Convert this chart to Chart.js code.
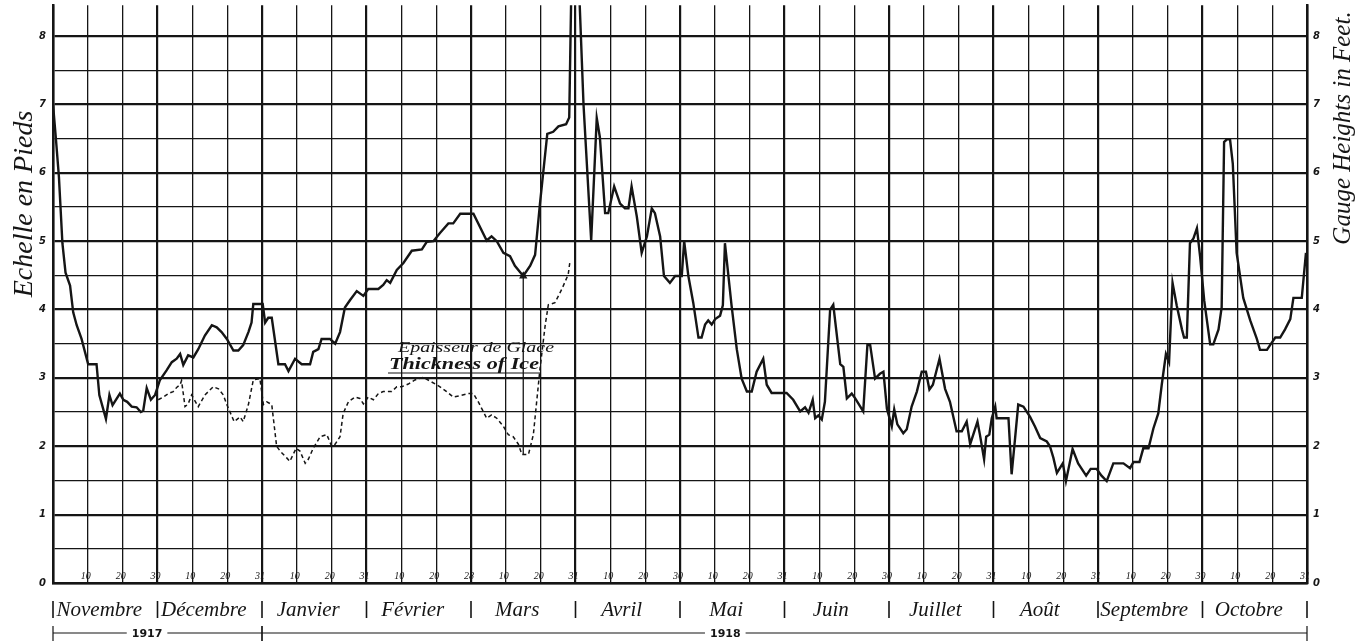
<!DOCTYPE html>
<html>
<head>
<meta charset="utf-8">
<script src="https://cdn.jsdelivr.net/npm/chart.js@4.4.1/dist/chart.umd.min.js"></script>
<style>
  html, body { margin: 0; padding: 0; background: #fff; }
  #chart { display: block; }
</style>
</head>
<body>
<canvas id="chart" width="1356" height="644"></canvas>
<script>
// x runs in ten-day periods from 1 Nov 1917 (3 per month, 36 in all), y in feet
const gaugePoints = [
  [0.00,7.00],[0.08,6.52],[0.17,5.94],[0.27,4.97],[0.36,4.54],[0.49,4.35],[0.58,3.96],[0.68,3.77],[0.82,3.57],[1.01,3.20],[1.25,3.20],[1.33,2.75],[1.52,2.40],[1.62,2.75],[1.71,2.60],[1.92,2.77],[2.02,2.68],[2.13,2.65],[2.26,2.58],[2.40,2.57],[2.52,2.50],[2.59,2.52],[2.69,2.85],[2.81,2.68],[2.93,2.75],
  [3.07,2.97],[3.26,3.11],[3.41,3.23],[3.55,3.28],[3.65,3.35],[3.74,3.19],[3.88,3.33],[4.03,3.30],[4.17,3.42],[4.36,3.62],[4.56,3.77],[4.70,3.74],[4.84,3.67],[4.99,3.57],[5.18,3.40],[5.32,3.40],[5.46,3.48],[5.61,3.67],[5.70,3.81],[5.75,4.08],[6.02,4.08],
  [6.09,3.81],[6.18,3.88],[6.28,3.88],[6.47,3.20],[6.66,3.20],[6.76,3.10],[6.95,3.28],[7.14,3.20],[7.38,3.20],[7.47,3.38],[7.62,3.42],[7.71,3.57],[7.95,3.57],[8.10,3.50],[8.24,3.67],[8.38,4.03],[8.53,4.14],[8.72,4.27],[8.91,4.20],
  [9.05,4.30],[9.34,4.30],[9.48,4.36],[9.58,4.43],[9.68,4.39],[9.87,4.58],[10.06,4.68],[10.30,4.86],[10.59,4.88],[10.73,4.99],[10.92,5.00],[11.11,5.12],[11.35,5.26],[11.49,5.26],[11.69,5.40],
  [12.07,5.40],[12.45,5.01],[12.59,5.07],[12.74,5.00],[12.93,4.83],[13.12,4.78],[13.26,4.64],[13.50,4.49],[13.70,4.64],[13.84,4.80],[13.98,5.55],[14.19,6.57],[14.36,6.60],[14.51,6.68],[14.73,6.71],[14.82,6.81],[14.89,9.00],
  [15.08,9.00],[15.23,7.00],[15.45,5.01],[15.61,6.80],[15.70,6.52],[15.85,5.41],[15.94,5.41],[16.11,5.80],[16.28,5.55],[16.42,5.48],[16.52,5.48],[16.61,5.80],[16.76,5.36],[16.90,4.83],[17.05,5.07],[17.19,5.48],[17.28,5.41],[17.43,5.07],[17.54,4.49],[17.71,4.39],[17.86,4.49],
  [18.05,4.49],[18.12,5.00],[18.24,4.49],[18.38,4.10],[18.53,3.59],[18.62,3.59],[18.72,3.78],[18.81,3.84],[18.91,3.78],[19.01,3.86],[19.15,3.91],[19.23,4.06],[19.29,4.97],[19.48,4.06],[19.63,3.42],[19.77,2.99],[19.92,2.80],[20.06,2.80],[20.20,3.09],[20.39,3.28],[20.49,2.90],[20.63,2.78],
  [21.06,2.78],[21.25,2.68],[21.45,2.51],[21.59,2.57],[21.69,2.49],[21.81,2.68],[21.88,2.41],[21.97,2.45],[22.07,2.39],[22.16,2.65],[22.31,4.00],[22.40,4.07],[22.60,3.20],[22.69,3.16],[22.79,2.70],[22.93,2.77],[23.03,2.70],[23.26,2.51],[23.38,3.48],[23.46,3.48],[23.60,2.99],[23.74,3.06],[23.84,3.09],
  [23.94,2.55],[24.08,2.29],[24.15,2.54],[24.24,2.32],[24.41,2.19],[24.51,2.25],[24.65,2.58],[24.80,2.80],[24.94,3.09],[25.06,3.09],[25.16,2.83],[25.26,2.90],[25.45,3.28],[25.61,2.84],[25.75,2.65],[25.94,2.22],[26.09,2.22],[26.23,2.36],[26.33,2.03],[26.54,2.36],[26.61,2.17],[26.73,1.81],[26.79,2.14],[26.88,2.17],
  [26.95,2.41],[27.05,2.58],[27.09,2.41],[27.43,2.41],[27.52,1.59],[27.62,2.12],[27.71,2.61],[27.86,2.58],[28.05,2.43],[28.19,2.29],[28.34,2.12],[28.53,2.07],[28.62,2.00],[28.72,1.83],[28.82,1.61],[28.99,1.75],[29.08,1.49],[29.27,1.96],[29.43,1.75],[29.66,1.57],[29.79,1.67],
  [29.96,1.67],[30.10,1.57],[30.25,1.49],[30.44,1.75],[30.73,1.75],[30.92,1.68],[31.02,1.77],[31.19,1.77],[31.30,1.97],[31.45,1.97],[31.59,2.26],[31.73,2.48],[31.83,2.90],[31.95,3.35],[32.04,3.23],[32.14,4.39],[32.26,4.06],[32.41,3.71],[32.47,3.59],[32.55,3.59],[32.64,4.97],[32.74,5.04],[32.84,5.19],[32.93,4.78],
  [33.05,4.13],[33.22,3.49],[33.31,3.49],[33.46,3.71],[33.55,4.03],[33.62,6.45],[33.70,6.49],[33.79,6.49],[33.87,6.13],[33.98,4.83],[34.17,4.17],[34.37,3.84],[34.56,3.57],[34.65,3.41],[34.85,3.41],[34.94,3.48],[35.09,3.59],[35.23,3.59],[35.37,3.71],[35.52,3.86],[35.61,4.17],[35.85,4.17],[35.97,4.83]
];

const icePoints = [
  [3.02,2.68],[3.17,2.72],[3.31,2.77],[3.45,2.80],[3.55,2.86],[3.65,2.90],[3.69,2.96],[3.79,2.58],[3.88,2.62],[3.98,2.75],[4.17,2.58],[4.36,2.75],[4.60,2.87],[4.75,2.84],[4.89,2.75],[4.99,2.61],[5.20,2.36],[5.37,2.43],[5.46,2.36],[5.61,2.61],[5.75,2.97],[5.94,2.99],
  [6.04,2.61],[6.14,2.65],[6.28,2.61],[6.42,2.00],[6.52,1.93],[6.71,1.83],[6.80,1.78],[6.98,1.97],[7.09,1.93],[7.24,1.75],[7.33,1.81],[7.47,1.97],[7.67,2.14],[7.86,2.17],[8.00,2.00],[8.10,2.03],[8.24,2.14],[8.33,2.48],[8.48,2.65],[8.67,2.72],[8.81,2.70],[8.91,2.62],
  [9.05,2.72],[9.20,2.68],[9.34,2.77],[9.48,2.80],[9.72,2.80],[9.87,2.87],[10.01,2.87],[10.20,2.91],[10.39,2.97],[10.63,3.01],[10.87,2.94],[11.11,2.87],[11.30,2.80],[11.49,2.72],[11.69,2.74],[11.92,2.77],
  [12.07,2.77],[12.21,2.65],[12.45,2.41],[12.59,2.46],[12.74,2.41],[12.93,2.29],[13.07,2.17],[13.21,2.14],[13.36,2.03],[13.46,1.88],[13.65,1.88],[13.79,2.17],[13.98,3.13],[14.13,3.77],[14.22,4.07],[14.41,4.10],[14.60,4.29],[14.79,4.51],[14.84,4.70]
];

// marker joining the lowest gauge reading in March to the ice curve
const arrowPoints = [[13.50,4.49],[13.50,1.88]];

const dayLabels = ["", "10","20","30", "10","20","31", "10","20","31", "10","20","28", "10","20","31", "10","20","30",
                   "10","20","31", "10","20","30", "10","20","31", "10","20","31", "10","20","30", "10","20","31"];
const monthNames = ["Novembre","Décembre","Janvier","Février","Mars","Avril","Mai","Juin","Juillet","Août","Septembre","Octobre"];
const years = [{ label: "1917", from: 0, to: 6, at: 2.7 }, { label: "1918", from: 6, to: 36, at: 19.3 }];
const yTitleLeft = "Echelle en Pieds";
const yTitleRight = "Gauge Heights in Feet.";
const iceNote = ["Epaisseur de Glace", "Thickness of Ice"];

const INK = "#151515";
const SCRIPT = "'Liberation Serif', 'DejaVu Serif', serif";

const toXY = (pts) => pts.map(([x, y]) => ({ x, y }));

// draws text stretched sideways so that it fills a given width
function wideText(ctx, text, x, y, width) {
  const w = ctx.measureText(text).width;
  ctx.save();
  ctx.translate(x, y);
  ctx.scale(width / w, 1);
  ctx.fillText(text, 0, 0);
  ctx.restore();
}

const decorations = {
  id: "decorations",
  afterDraw(chart) {
    const { ctx } = chart;
    const xs = chart.scales.x;
    const ys = chart.scales.y;
    const base = ys.getPixelForValue(0);
    ctx.save();
    ctx.fillStyle = INK;
    ctx.strokeStyle = INK;

    // day marks sitting on the zero line
    ctx.font = "italic 10px " + SCRIPT;
    ctx.textAlign = "center";
    ctx.textBaseline = "bottom";
    dayLabels.forEach((lab, i) => {
      if (!lab) return;
      ctx.fillText(lab, xs.getPixelForValue(i) - 2, base - 2);
    });

    // month names with separators
    ctx.font = "italic 21px " + SCRIPT;
    ctx.textBaseline = "middle";
    ctx.lineWidth = 1.6;
    for (let m = 0; m <= 12; m++) {
      const px = xs.getPixelForValue(m * 3);
      ctx.beginPath();
      ctx.moveTo(px, 601);
      ctx.lineTo(px, 618);
      ctx.stroke();
      if (m < 12) {
        const mid = xs.getPixelForValue(m * 3 + 1.5) - 6;
        ctx.fillText(monthNames[m], mid, 610);
      }
    }

    // year bracket
    ctx.font = "bold 11px 'DejaVu Sans', sans-serif";
    ctx.lineWidth = 1.2;
    years.forEach((yr) => {
      const a = xs.getPixelForValue(yr.from);
      const b = xs.getPixelForValue(yr.to);
      const c = xs.getPixelForValue(yr.at);
      const w = ctx.measureText(yr.label).width / 2 + 5;
      ctx.beginPath();
      ctx.moveTo(a, 633); ctx.lineTo(c - w, 633);
      ctx.moveTo(c + w, 633); ctx.lineTo(b, 633);
      ctx.moveTo(a, 626); ctx.lineTo(a, 641);
      ctx.moveTo(b, 626); ctx.lineTo(b, 641);
      ctx.stroke();
      ctx.fillText(yr.label, c, 634);
    });

    // axis titles, both reading upward
    ctx.font = "italic 28px " + SCRIPT;
    ctx.save();
    ctx.translate(25, 204);
    ctx.rotate(-Math.PI / 2);
    ctx.fillText(yTitleLeft, 0, 0);
    ctx.restore();
    ctx.font = "italic 25px " + SCRIPT;
    ctx.save();
    ctx.translate(1343, 128);
    ctx.rotate(-Math.PI / 2);
    ctx.fillText(yTitleRight, 0, 0);
    ctx.restore();

    // note on the ice curve
    ctx.textAlign = "left";
    ctx.textBaseline = "alphabetic";
    ctx.font = "italic 15px " + SCRIPT;
    wideText(ctx, iceNote[0], 398, 352, 156);
    ctx.font = "italic bold 16px " + SCRIPT;
    wideText(ctx, iceNote[1], 389, 369, 150);
    ctx.lineWidth = 1.2;
    ctx.beginPath();
    ctx.moveTo(388, 373);
    ctx.lineTo(540, 373);
    ctx.stroke();

    ctx.restore();
  }
};

new Chart(document.getElementById("chart"), {
  type: "line",
  data: {
    datasets: [
      {
        label: "Gauge Heights",
        data: toXY(gaugePoints),
        borderColor: INK,
        borderWidth: 2.4,
        pointRadius: 0,
        tension: 0,
        yAxisID: "y",
      },
      {
        label: "Thickness of Ice",
        data: toXY(icePoints),
        borderColor: INK,
        borderWidth: 1.5,
        borderDash: [4, 3],
        pointRadius: 0,
        tension: 0,
        yAxisID: "y",
      },
      {
        label: "marker",
        data: toXY(arrowPoints),
        borderColor: INK,
        borderWidth: 1.3,
        pointStyle: "triangle",
        pointRadius: [3.5, 0],
        pointBackgroundColor: INK,
        pointBorderColor: INK,
        yAxisID: "y",
      },
    ],
  },
  options: {
    responsive: false,
    animation: false,
    devicePixelRatio: 1,
    layout: { padding: 0 },
    plugins: { legend: { display: false }, tooltip: { enabled: false } },
    scales: {
      x: {
        type: "linear",
        min: 0,
        max: 36,
        ticks: { stepSize: 1, display: false },
        grid: {
          drawTicks: false,
          color: INK,
          lineWidth: (c) => (c.tick && c.tick.value % 3 === 0 ? 2.2 : 1.3),
        },
        border: { display: true, color: INK, width: 2.5 },
        afterFit(s) { s.height = 61; s.paddingLeft = 0; s.paddingRight = 0; },
      },
      y: {
        position: "left",
        min: 0,
        max: 8.45,
        ticks: {
          stepSize: 0.5,
          padding: 7,
          color: INK,
          font: { size: 10, weight: "bold", style: "italic", family: "'DejaVu Sans', sans-serif" },
          callback: (v) => (Number.isInteger(v) ? String(v) : ""),
        },
        grid: {
          drawTicks: false,
          color: INK,
          lineWidth: (c) => {
            const v = c.tick ? c.tick.value : 0;
            if (Math.abs(v * 2 - Math.round(v * 2)) > 1e-6) return 0;
            return Number.isInteger(v) ? 2.2 : 1.3;
          },
        },
        border: { display: true, color: INK, width: 2.5 },
        afterFit(s) { s.width = 53; s.paddingTop = 0; s.paddingBottom = 0; },
      },
      y2: {
        position: "right",
        min: 0,
        max: 8.45,
        ticks: {
          stepSize: 0.5,
          padding: 6,
          color: INK,
          font: { size: 10, weight: "bold", style: "italic", family: "'DejaVu Sans', sans-serif" },
          callback: (v) => (Number.isInteger(v) ? String(v) : ""),
        },
        grid: { display: false, drawTicks: false },
        border: { display: true, color: INK, width: 2.5 },
        afterFit(s) { s.width = 49; s.paddingTop = 0; s.paddingBottom = 0; },
      },
    },
  },
  plugins: [decorations],
});
</script>
</body>
</html>
